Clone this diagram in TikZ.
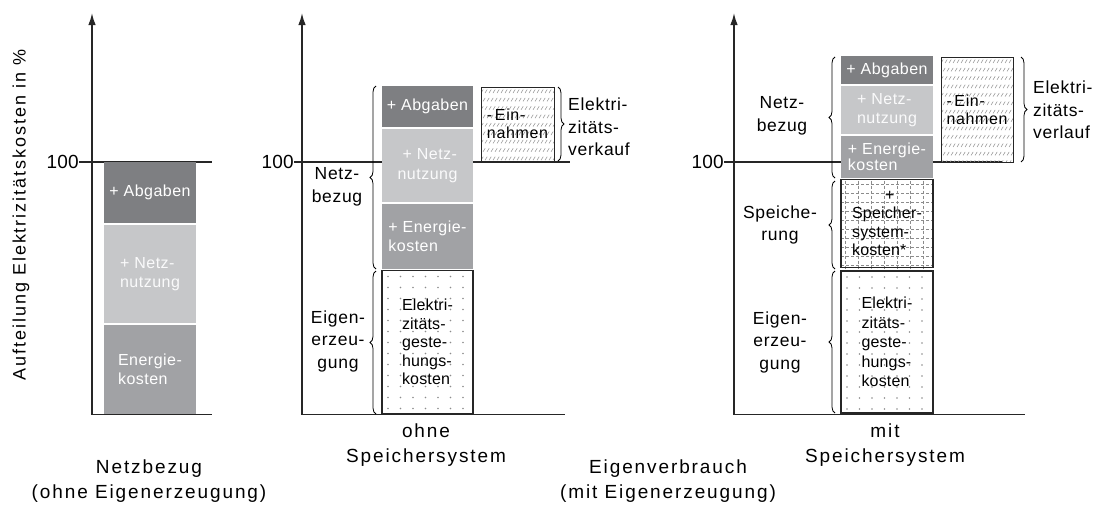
\documentclass[tikz,border=0pt]{standalone}
\usepackage{fontspec}
\setmainfont{Liberation Sans}
\newfontfamily\fAx[LetterSpace=10]{Liberation Sans}
\newfontfamily\fBr[LetterSpace=4]{Liberation Sans}
\newfontfamily\fBar[LetterSpace=3]{Liberation Sans}
\newfontfamily\fBx[LetterSpace=1]{Liberation Sans}
\newfontfamily\fYl[LetterSpace=11]{Liberation Sans}
\usetikzlibrary{arrows.meta,decorations.pathreplacing}
\definecolor{cAb}{HTML}{7E7F82}
\definecolor{cNe}{HTML}{C6C7C9}
\definecolor{cEn}{HTML}{A1A2A5}
\definecolor{cAx}{HTML}{262626}
\definecolor{cPat}{HTML}{8C8C8C}
\newcommand\mydots[4]{%
  \begin{scope}
  \clip (#1,#2) rectangle (#3,#4);
  \foreach \i in {0,...,9}{\foreach \j in {0,...,14}{%
    \fill[cPat] ({#1+6+\i*12.5},{#2+6+\j*11}) circle (0.8pt);}}
  \end{scope}}
\newcommand\mygrid[4]{%
  \begin{scope}
  \clip (#1,#2) rectangle (#3,#4);
  \foreach \i in {0,...,9}{\draw[cPat,densely dashed,line width=0.5pt] ({#1+4+\i*13},#2) -- ({#1+4+\i*13},#4);}
  \foreach \j in {0,...,12}{\draw[cPat,densely dashed,line width=0.5pt] (#1,{#2+4+\j*9}) -- (#3,{#2+4+\j*9});}
  \end{scope}}
\newcommand\myhatch[4]{%
  \begin{scope}
  \clip (#1,#2) rectangle (#3,#4);
  \foreach \j in {0,...,13}{\foreach \i in {0,...,20}{%
    \draw[cPat,line width=0.5pt] ({#1+\i*4+mod(\j,2)*2},{#2+6+\j*8.4}) -- ++(2.2,-3.5);}}
  \end{scope}}
\begin{document}
\begin{tikzpicture}[x=1pt,y=-1pt,
  seg/.style={inner sep=0pt, outer sep=0pt, text=white, align=left,
    font=\fBar\fontsize{16}{19.5}\selectfont},
  box/.style={draw=cAx, line width=1.2pt, inner sep=0pt, outer sep=0pt, align=left,
    font=\fBx\fontsize{16}{18.5}\selectfont},
  axisline/.style={draw=cAx, line width=1.6pt},
  hundred/.style={draw=cAx, line width=1.5pt},
  brlabel/.style={align=center, inner sep=0pt, font=\fBr\fontsize{17.5}{22.5}\selectfont},
  axlabel/.style={align=center, inner sep=0pt, font=\fAx\fontsize{19}{25}\selectfont},
  brc/.style={draw=black, line width=0.8pt, decorate, decoration={brace, amplitude=6pt}},
  num/.style={anchor=east, inner sep=0pt, font=\fBx\fontsize{19}{22}\selectfont}
]
\useasboundingbox (0,0) rectangle (1098,504);

% ---------- 100 lines ----------
\node[num] (h1) at (79,162) {100};
\node[num] (h2) at (294,162) {100};
\node[num] (h3) at (724,162) {100};
\draw[hundred] (h1.east) -- (212,162);
\draw[hundred] (h2.east) -- (570,162);
\draw[hundred] (h3.east) -- (1002,162);

% ---------- panel 1 ----------
\node[seg, fill=cAb, minimum width=92pt, minimum height=61pt] (p1ab) at (150,192.5) {+ Abgaben};
\node[seg, fill=cNe, text=white!92!cNe, minimum width=92pt, minimum height=98pt] (p1ne) at (150,274) {+ Netz-\\nutzung};
\node[seg, fill=cEn, minimum width=92pt, minimum height=89pt] (p1en) at (150,369.5) {Energie-\\kosten};

% ---------- panel 2 ----------
\node[seg, fill=cAb, minimum width=91pt, minimum height=41pt] (p2ab) at (427.5,106.5) {+ Abgaben};
\node[seg, fill=cNe, text=white!92!cNe, minimum width=91pt, minimum height=73pt] (p2ne) at (427.5,165.5) {\hspace*{5pt}+ Netz-\\nutzung};
\node[seg, fill=cEn, minimum width=91pt, minimum height=65pt] (p2en) at (427.5,236.5) {+ Energie-\\kosten};
\mydots{382}{270.5}{473}{413.5}
\node[box, minimum width=91pt, minimum height=143pt] (p2ei) at (427.5,342) {Elektri-\\zitäts-\\geste-\\hungs-\\kosten};
\myhatch{481}{87}{554}{161}
\node[box, line width=1pt, minimum width=73pt, minimum height=74pt, font=\fBr\fontsize{16}{18}\selectfont] (p2ein) at (517.5,124) {-\,Ein-\\nahmen};

% ---------- panel 3 ----------
\node[seg, fill=cAb, minimum width=92pt, minimum height=28pt] (p3ab) at (887,70) {+ Abgaben};
\node[seg, fill=cNe, text=white!92!cNe, minimum width=92pt, minimum height=48pt] (p3ne) at (887,110) {+ Netz-\\nutzung};
\node[seg, fill=cEn, minimum width=92pt, minimum height=42pt, font=\fBar\fontsize{16}{16.5}\selectfont] (p3en) at (887,157) {+ Energie-\\kosten};
\mygrid{841}{180.5}{933}{268.5}
\node[box, minimum width=92pt, minimum height=88pt, font=\fBx\fontsize{16}{18.6}\selectfont] (p3sp) at (887,223.5) {\hspace*{33pt}+\\Speicher-\\system-\\kosten*};
\mydots{841}{271}{933}{413}
\node[box, minimum width=92pt, minimum height=142pt, font=\fBx\fontsize{16}{19.5}\selectfont] (p3ei) at (887,342) {Elektri-\\zitäts-\\geste-\\hungs-\\kosten};
\myhatch{941}{57}{1013}{162}
\node[box, line width=1pt, minimum width=72pt, minimum height=105pt, font=\fBr\fontsize{16}{18}\selectfont] (p3ein) at (977,109.5) {-\,Ein-\\nahmen};

% ---------- axes ----------
\coordinate (o1) at (92,414.5); \coordinate (t1) at (92,13); \coordinate (r1) at (212,414.5);
\coordinate (o2) at (302,414.5); \coordinate (t2) at (302,13); \coordinate (r2) at (565,414.5);
\coordinate (o3) at (734,414.5); \coordinate (t3) at (734,13); \coordinate (r3) at (1025,414.5);
\foreach \k in {1,2,3}{
  \draw[axisline, -{Latex[length=12pt,width=7.5pt]}] (o\k) -- (t\k);
  \draw[axisline] (o\k) -- (r\k);
}

% ---------- braces ----------
\draw[brc] (376,269) -- (376,86);
\draw[brc] (376,414) -- (376,271);
\draw[brc] (558,87) -- (558,161);
\draw[brc] (835,178) -- (835,57);
\draw[brc] (835,269) -- (835,181);
\draw[brc] (835,413) -- (835,271);
\draw[brc] (1021,57) -- (1021,162);

% ---------- labels ----------
\node[rotate=90, inner sep=0pt, font=\fYl\fontsize{18}{20}\selectfont] (ylab) at (21,215) {Aufteilung Elektrizitätskosten in \%};
\node[brlabel] (l2n) at (337,187) {Netz-\\bezug};
\node[brlabel] (l2e) at (338,341) {Eigen-\\erzeu-\\gung};
\node[brlabel, align=left, anchor=west] (l2r) at (568,127) {Elektri-\\zitäts-\\verkauf};
\node[brlabel] (l3n) at (782,116) {Netz-\\bezug};
\node[brlabel] (l3s) at (780,225) {Speiche-\\rung};
\node[brlabel] (l3e) at (780,342) {Eigen-\\erzeu-\\gung};
\node[brlabel, align=left, anchor=west] (l3r) at (1033,110) {Elektri-\\zitäts-\\verlauf};

\node[axlabel] (b2) at (426,445) {ohne\\Speichersystem};
\node[axlabel] (b3) at (885,445) {mit\\Speichersystem};
\node[axlabel] (b1) at (149,481) {Netzbezug\\(ohne Eigenerzeugung)};
\node[axlabel] (b23) at (668,481) {Eigenverbrauch\\(mit Eigenerzeugung)};
\end{tikzpicture}
\end{document}
